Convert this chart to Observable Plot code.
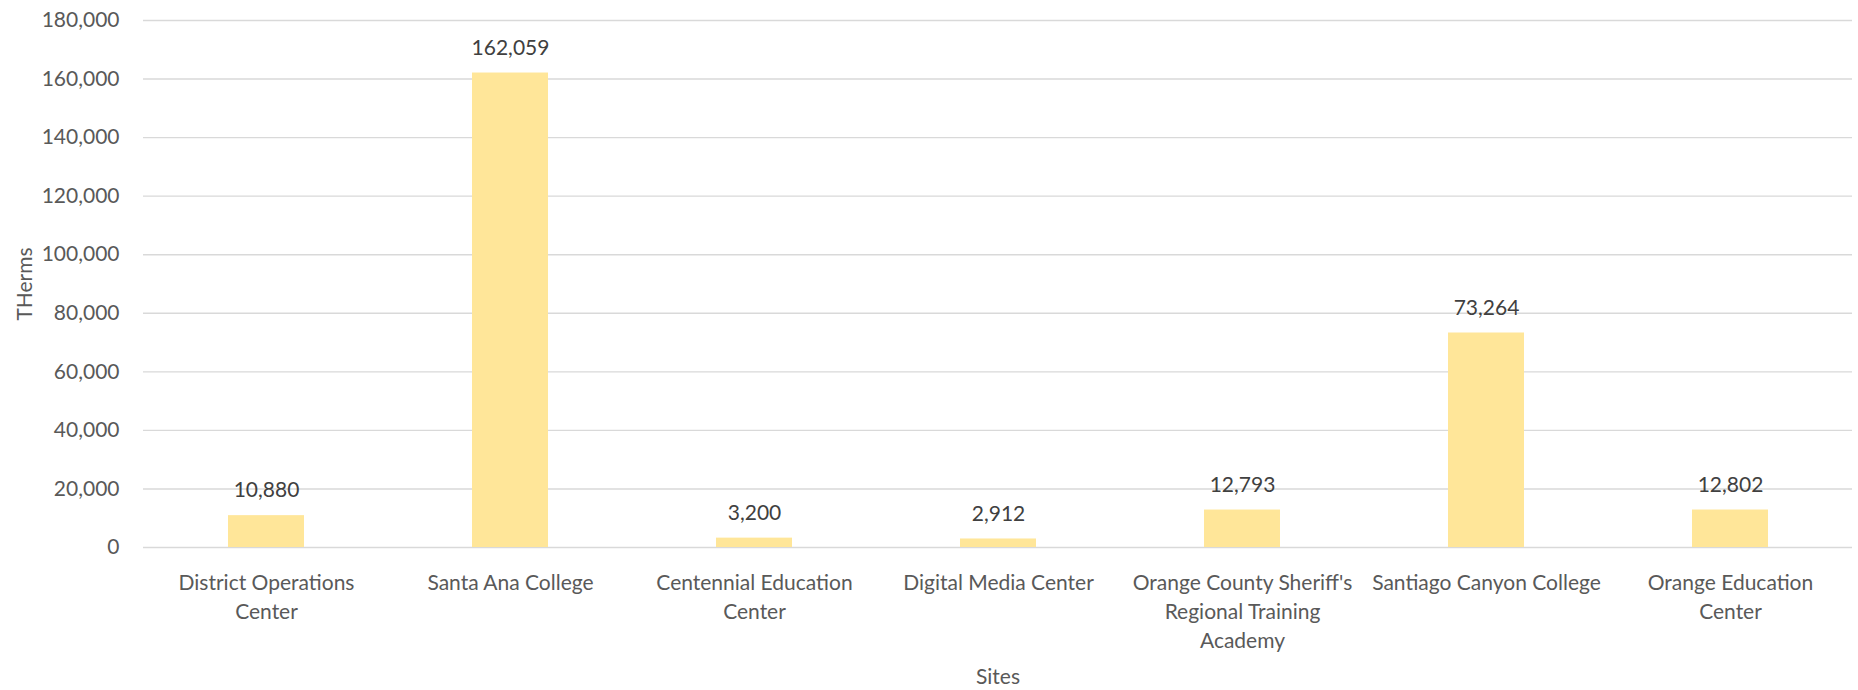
<!DOCTYPE html>
<html>
<head>
<meta charset="utf-8">
<script src="https://cdn.jsdelivr.net/npm/d3@7"></script>
<script src="https://cdn.jsdelivr.net/npm/@observablehq/plot@0.6"></script>
<style>
  html, body { margin: 0; padding: 0; background: #fff; }
  #chart svg { display: block; }
</style>
</head>
<body>
<div id="chart"></div>
<script>
const sites = [
  "District Operations Center",
  "Santa Ana College",
  "Centennial Education Center",
  "Digital Media Center",
  "Orange County Sheriff's Regional Training Academy",
  "Santiago Canyon College",
  "Orange Education Center"
];
const siteLabels = [
  "District Operations\nCenter",
  "Santa Ana College",
  "Centennial Education\nCenter",
  "Digital Media Center",
  "Orange County Sheriff's\nRegional Training\nAcademy",
  "Santiago Canyon College",
  "Orange Education\nCenter"
];
const therms = [10880, 162059, 3200, 2912, 12793, 73264, 12802];
const yTicks = [0, 20000, 40000, 60000, 80000, 100000, 120000, 140000, 160000, 180000];

const data = sites.map((s, i) => ({site: s, value: therms[i]}));
const labelOf = new Map(sites.map((s, i) => [s, siteLabels[i]]));
const fmt = d3.format(",");
const FONT = "Lato, 'Open Sans', sans-serif";
const TEXT = "#595959";

const chart = Plot.plot({
  width: 1858,
  height: 690,
  marginTop: 20,
  marginBottom: 143,
  marginLeft: 143,
  marginRight: 6,
  style: {fontFamily: FONT, fontSize: "21px", color: TEXT, background: "#fff"},
  x: {domain: sites, paddingInner: 0.69, paddingOuter: 0.345, axis: null},
  y: {domain: [0, 180000], axis: null},
  marks: [
    Plot.gridY(yTicks, {stroke: "#D9D9D9", strokeOpacity: 1, strokeWidth: 1.4}),
    Plot.barY(data, {x: "site", y: "value", fill: "#FFE699"}),
    Plot.text(data, {x: "site", y: "value", text: d => fmt(d.value), dy: -25, fill: "#404040", fontSize: 21}),
    Plot.axisY(yTicks, {tickSize: 0, tickPadding: 24, tickFormat: fmt, fontSize: 21, fill: TEXT, label: null}),
    Plot.axisX({tickSize: 0, tickPadding: 22, tickFormat: d => labelOf.get(d), fontSize: 21, fill: TEXT, lineHeight: 1.38, label: null}),
    Plot.text(["THerms"], {frameAnchor: "left", textAnchor: "middle", dx: -118, rotate: -90, fontSize: 21, fill: TEXT}),
    Plot.text(["Sites"], {frameAnchor: "bottom", dy: 136, fontSize: 21, fill: TEXT})
  ]
});
document.getElementById("chart").appendChild(chart);
</script>
</body>
</html>
